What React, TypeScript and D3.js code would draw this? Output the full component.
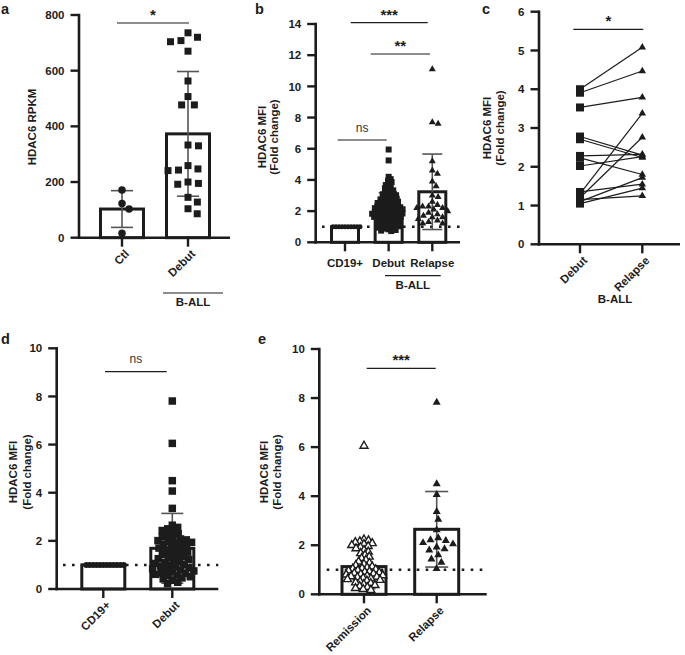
import React from 'react';
import * as d3 from 'd3';

/* ---------- a: HDAC6 RPKM, control vs B-ALL debut ---------- */
const aCategories = ['Ctl', 'Debut'];
const aCtl = [171, 123, 103, 16];
const aDebut = [736, 720, 708, 704, 670, 563, 507, 477, 477, 333, 330, 259, 247, 243, 241, 200, 195, 192, 145, 128, 104, 86];
const aMean = [103, 373];
const aSd = [66, 224];
const aTicks = [0, 200, 400, 600, 800];

/* ---------- b: HDAC6 MFI fold change ---------- */
const bCategories = ['CD19+', 'Debut', 'Relapse'];
const bCd19 = [1, 1, 1, 1, 1, 1, 1, 1, 1, 1];
const bDebut = [
  0.72, 0.75, 0.79, 0.83, 0.88,
  0.91, 0.94, 0.97, 1.0, 1.03, 1.06, 1.09,
  1.11, 1.13, 1.16, 1.19, 1.22, 1.24, 1.27, 1.29,
  1.31, 1.34, 1.36, 1.39, 1.42, 1.44, 1.47, 1.49,
  1.51, 1.53, 1.56, 1.58, 1.61, 1.63, 1.65, 1.67, 1.69,
  1.71, 1.72, 1.74, 1.76, 1.79, 1.81, 1.83, 1.85, 1.87, 1.89,
  1.91, 1.92, 1.94, 1.96, 1.98, 2.01, 2.03, 2.05, 2.07, 2.09,
  2.11, 2.12, 2.14, 2.16, 2.19, 2.21, 2.23, 2.25, 2.27, 2.29,
  2.31, 2.34, 2.36, 2.39, 2.42, 2.44, 2.46, 2.49,
  2.52, 2.55, 2.58, 2.61, 2.63, 2.66, 2.69,
  2.72, 2.75, 2.79, 2.82, 2.85, 2.88,
  2.92, 2.96, 3.0, 3.04, 3.08,
  3.12, 3.17, 3.22, 3.27,
  3.33, 3.4, 3.46,
  3.52, 3.6, 3.67,
  3.75, 3.86,
  3.95, 4.05,
  4.2,
  5.25, 5.95,
];
const bRelapse = [11.1, 7.7, 7.6, 5.2, 4.6, 4.4, 3.9, 3.6, 3.0, 2.9, 2.6, 2.4, 2.3, 2.3, 2.2, 2.2, 2.1, 2.0, 1.9, 1.8, 1.7, 1.6, 1.6, 1.5, 1.4, 1.3, 1.2, 1.2];
const bMean = [1, 2.18, 3.24];
const bSd = [0, 1.0, 2.42];
const bTicks = [0, 2, 4, 6, 8, 10, 12, 14];

/* ---------- c: paired debut / relapse ---------- */
const cCategories = ['Debut', 'Relapse'];
const cDebut = [4.0, 3.91, 3.53, 2.78, 2.71, 2.28, 2.23, 2.02, 1.3, 1.2, 1.1, 1.35, 1.05, 1.15];
const cRelapse = [5.08, 4.47, 3.79, 2.3, 2.24, 2.32, 1.8, 2.26, 3.38, 2.76, 1.72, 1.55, 1.45, 1.25];
const cTicks = [0, 1, 2, 3, 4, 5, 6];

/* ---------- d: CD19+ vs debut ---------- */
const dCategories = ['CD19+', 'Debut'];
const dCd19 = [1, 1, 1, 1, 1, 1, 1, 1, 1, 1, 1, 1];
const dDebut = [
  0.22, 0.28, 0.36,
  0.42, 0.46, 0.51, 0.55, 0.58,
  0.61, 0.65, 0.68, 0.72, 0.75, 0.79,
  0.81, 0.84, 0.88, 0.91, 0.95, 0.98,
  1.02, 1.06, 1.1, 1.14, 1.18,
  1.22, 1.26, 1.3, 1.34, 1.38,
  1.43, 1.48, 1.53, 1.57,
  1.61, 1.65, 1.7, 1.74, 1.78,
  1.82, 1.86, 1.9, 1.94, 1.98,
  2.01, 2.04, 2.08, 2.12, 2.17,
  2.23, 2.3, 2.37,
  2.43, 2.5, 2.56,
  2.65,
  3.35, 4.07, 4.5, 6.05, 7.81,
];
const dMean = [1, 1.69];
const dSd = [0, 1.45];
const dTicks = [0, 2, 4, 6, 8, 10];

/* ---------- e: remission vs relapse ---------- */
const eCategories = ['Remission', 'Relapse'];
const eRemission = [
  0.17, 0.21, 0.25, 0.29,
  0.33, 0.37, 0.41, 0.45, 0.48,
  0.52, 0.55, 0.58, 0.61, 0.64, 0.66, 0.69,
  0.71, 0.73, 0.75, 0.77, 0.8, 0.82, 0.84, 0.86, 0.89,
  0.91, 0.93, 0.96, 0.98, 1.01, 1.04, 1.06, 1.09,
  1.13, 1.18, 1.23, 1.28,
  1.33, 1.4, 1.47,
  1.53, 1.6, 1.67,
  1.73, 1.8, 1.87,
  1.92, 1.96, 2.0, 2.04, 2.08,
  2.12, 2.15, 2.19, 2.23,
  6.05,
];
const eRelapse = [7.82, 4.5, 4.06, 3.37, 3.05, 2.62, 2.3, 2.22, 2.19, 2.1, 2.05, 1.92, 1.85, 1.8, 1.6, 1.43, 1.3, 1.04];
const eMean = [1.13, 2.65];
const eSd = [0.9, 1.54];
const eTicks = [0, 2, 4, 6, 8, 10];

/* ---------- drawing helpers ---------- */
const INK = '#1c1c1c';
const ERR = '#555555';
const FONT = "'Liberation Sans', Arial, Helvetica, sans-serif";
const FS = 11.5;

type Scale = d3.ScaleLinear<number, number>;
type Shape = 'square' | 'circle' | 'triangle';

function swarm(values: number[], y: Scale, gap: number) {
  const placed: { v: number; y: number; dx: number }[] = [];
  const sorted = [...values].sort((a, b) => b - a);
  for (const v of sorted) {
    const yy = y(v);
    const blocks: [number, number][] = [];
    for (const p of placed) {
      const dy = Math.abs(p.y - yy);
      if (dy < gap) {
        const w = Math.sqrt(gap * gap - dy * dy);
        blocks.push([p.dx - w, p.dx + w]);
      }
    }
    const cands = [0];
    blocks.forEach(([a, b]) => cands.push(a, b));
    cands.sort((a, b) => Math.abs(a) - Math.abs(b) || b - a);
    const dx = cands.find((c) => blocks.every(([a, b]) => c <= a + 1e-6 || c >= b - 1e-6)) ?? 0;
    placed.push({ v, y: yy, dx });
  }
  return placed;
}

function symbolPath(shape: Shape, size: number) {
  if (shape === 'square') return d3.symbol(d3.symbolSquare, size * size)() as string;
  if (shape === 'circle') return d3.symbol(d3.symbolCircle, (Math.PI * size * size) / 4)() as string;
  return d3.symbol(d3.symbolTriangle, (Math.sqrt(3) / 4) * size * size)() as string;
}

function Points({ values, cx, y, gap, shape, size, open = false }: {
  values: number[]; cx: number; y: Scale; gap: number; shape: Shape; size: number; open?: boolean;
}) {
  const pts = swarm(values, y, gap);
  const d = symbolPath(shape, size);
  return (
    <g>
      {pts.map((p, i) => (
        <path key={i} d={d} transform={`translate(${cx + p.dx},${p.y})`}
          fill={open ? '#fff' : INK} stroke={open ? INK : 'none'} strokeWidth={open ? 1.4 : 0} />
      ))}
    </g>
  );
}

function Bar({ cx, w, y, v }: { cx: number; w: number; y: Scale; v: number }) {
  return <rect x={cx - w / 2} y={y(v)} width={w} height={y(0) - y(v)} fill="none" stroke={INK} strokeWidth={3} />;
}

function ErrorBar({ cx, y, mean, sd, cap }: { cx: number; y: Scale; mean: number; sd: number; cap: number }) {
  if (!sd) return null;
  const lo = y(mean - sd), hi = y(mean + sd);
  return (
    <g stroke={ERR} strokeWidth={1.6}>
      <line x1={cx} x2={cx} y1={lo} y2={hi} />
      <line x1={cx - cap / 2} x2={cx + cap / 2} y1={hi} y2={hi} />
      <line x1={cx - cap / 2} x2={cx + cap / 2} y1={lo} y2={lo} />
    </g>
  );
}

function RefLine({ x1, x2, y }: { x1: number; x2: number; y: number }) {
  return <line x1={x1} x2={x2} y1={y} y2={y} stroke={INK} strokeWidth={2.6} strokeDasharray="2.6 6.4" />;
}

function Axes({ y, ticks, axisX, axisEnd, x, cats, rotate }: {
  y: Scale; ticks: number[]; axisX: number; axisEnd: number; x: d3.ScalePoint<string>; cats: string[]; rotate: boolean;
}) {
  const y0 = y(0);
  const yTop = y(ticks[ticks.length - 1]);
  return (
    <g>
      <line x1={axisX} x2={axisX} y1={y0 + 1.3} y2={yTop - 1.2} stroke={INK} strokeWidth={2.6} />
      <line x1={axisX - 1.3} x2={axisEnd} y1={y0} y2={y0} stroke={INK} strokeWidth={2.6} />
      {ticks.map((t) => (
        <g key={t}>
          <line x1={axisX - 8.5} x2={axisX} y1={y(t)} y2={y(t)} stroke={INK} strokeWidth={2.4} />
          <text x={axisX - 14.5} y={y(t)} dy="0.36em" textAnchor="end" fontSize={FS} fontWeight="bold" fill={INK}>{t}</text>
        </g>
      ))}
      {cats.map((c) => (
        <line key={c} x1={x(c)} x2={x(c)} y1={y0} y2={y0 + 9} stroke={INK} strokeWidth={2.4} />
      ))}
      {cats.map((c) =>
        rotate ? (
          <text key={c} transform={`translate(${x(c)! + 5},${y0 + 14}) rotate(-45)`} dy="0.35em" textAnchor="end"
            fontSize={FS} fontWeight="bold" fill={INK}>{c}</text>
        ) : (
          <text key={c} x={x(c)} y={y0 + 25} textAnchor="middle" fontSize={FS} fontWeight="bold" fill={INK}>{c}</text>
        )
      )}
    </g>
  );
}

function Sig({ x1, x2, y, label }: { x1: number; x2: number; y: number; label: string }) {
  const stars = label.startsWith('*');
  return (
    <g>
      <line x1={x1} x2={x2} y1={y} y2={y} stroke={INK} strokeWidth={1.2} />
      <text x={(x1 + x2) / 2} y={stars ? y - 3 : y - 8.5} textAnchor="middle"
        fontSize={stars ? 15 : 12} fontWeight={stars ? 'bold' : 'normal'} fill={stars ? INK : '#333'}>{label}</text>
    </g>
  );
}

function YLabel({ xs, cy, lines }: { xs: number[]; cy: number; lines: string[] }) {
  return (
    <g>
      {lines.map((l, i) => (
        <text key={l} transform={`translate(${xs[i]},${cy}) rotate(-90)`} dy="0.35em" textAnchor="middle"
          fontSize={FS} fontWeight="bold" fill={INK}>{l}</text>
      ))}
    </g>
  );
}

function Group({ x1, x2, y, label, line = true }: { x1: number; x2: number; y: number; label: string; line?: boolean }) {
  return (
    <g>
      {line && <line x1={x1} x2={x2} y1={y} y2={y} stroke={INK} strokeWidth={1.2} />}
      <text x={(x1 + x2) / 2} y={y + 13} textAnchor="middle" fontSize={FS} fontWeight="bold" fill={INK}>{label}</text>
    </g>
  );
}

function Letter({ x, y, t }: { x: number; y: number; t: string }) {
  return <text x={x} y={y} fontSize={14.5} fontWeight="bold" fill={INK}>{t}</text>;
}

/* ---------- panels ---------- */
function PanelA() {
  const y = d3.scaleLinear().domain([0, 800]).range([237.7, 15]);
  const x = d3.scalePoint<string>().domain(aCategories).range([122, 188]);
  return (
    <g>
      <Letter x={1} y={14} t="a" />
      {aCategories.map((c, i) => <Bar key={c} cx={x(c)!} w={43} y={y} v={aMean[i]} />)}
      {aCategories.map((c, i) => <ErrorBar key={c} cx={x(c)!} y={y} mean={aMean[i]} sd={aSd[i]} cap={22} />)}
      <Points values={aCtl} cx={x('Ctl')!} y={y} gap={9} shape="circle" size={7.5} />
      <Points values={aDebut} cx={x('Debut')!} y={y} gap={10.5} shape="square" size={7} />
      <Axes y={y} ticks={aTicks} axisX={79} axisEnd={230} x={x} cats={aCategories} rotate />
      <Sig x1={117} x2={189} y={23} label="*" />
      <YLabel xs={[32]} cy={127} lines={['HDAC6 RPKM']} />
      <Group x1={163} x2={223} y={293} label="B-ALL" />
    </g>
  );
}

function PanelB() {
  const y = d3.scaleLinear().domain([0, 14]).range([242.3, 24]);
  const x = d3.scalePoint<string>().domain(bCategories).range([345, 432.3]);
  const groups = [bCd19, bDebut, bRelapse];
  const shapes: Shape[] = ['circle', 'square', 'triangle'];
  const sizes = [5, 6, 7];
  const gaps = [3, 3.1, 6];
  return (
    <g>
      <Letter x={255} y={14} t="b" />
      {bCategories.map((c, i) => <Bar key={c} cx={x(c)!} w={27} y={y} v={bMean[i]} />)}
      <RefLine x1={322} x2={460} y={y(1)} />
      {bCategories.map((c, i) => <ErrorBar key={c} cx={x(c)!} y={y} mean={bMean[i]} sd={bSd[i]} cap={20} />)}
      {bCategories.map((c, i) => (
        <Points key={c} values={groups[i]} cx={x(c)!} y={y} gap={gaps[i]} shape={shapes[i]} size={sizes[i]} />
      ))}
      <Axes y={y} ticks={bTicks} axisX={315.7} axisEnd={460} x={x} cats={bCategories} rotate={false} />
      <Sig x1={350.7} x2={427.7} y={22.7} label="***" />
      <Sig x1={370.7} x2={430} y={54} label="**" />
      <Sig x1={337.7} x2={386.7} y={140} label="ns" />
      <YLabel xs={[261.7, 273.7]} cy={137} lines={['HDAC6 MFI', '(Fold change)']} />
      <Group x1={385} x2={440.7} y={275.7} label="B-ALL" />
    </g>
  );
}

function PanelC() {
  const y = d3.scaleLinear().domain([0, 6]).range([244.3, 11.7]);
  const x = d3.scalePoint<string>().domain(cCategories).range([580, 642.3]);
  const sq = symbolPath('square', 8);
  const tri = symbolPath('triangle', 7.5);
  const x0 = x('Debut')!, x1 = x('Relapse')!;
  return (
    <g>
      <Letter x={482} y={14} t="c" />
      {cDebut.map((v, i) => (
        <line key={i} x1={x0} x2={x1} y1={y(v)} y2={y(cRelapse[i])} stroke={INK} strokeWidth={1.2} />
      ))}
      {cDebut.map((v, i) => <path key={i} d={sq} transform={`translate(${x0},${y(v)})`} fill={INK} />)}
      {cRelapse.map((v, i) => <path key={i} d={tri} transform={`translate(${x1},${y(v)})`} fill={INK} />)}
      <Axes y={y} ticks={cTicks} axisX={539} axisEnd={680} x={x} cats={cCategories} rotate />
      <Sig x1={573.3} x2={643.3} y={29.3} label="*" />
      <YLabel xs={[486.7, 499.7]} cy={128} lines={['HDAC6 MFI', '(Fold change)']} />
      <Group x1={590} x2={640} y={289.5} label="B-ALL" line={false} />
    </g>
  );
}

function PanelD() {
  const y = d3.scaleLinear().domain([0, 10]).range([589, 348.3]);
  const x = d3.scalePoint<string>().domain(dCategories).range([103.3, 172.3]);
  return (
    <g>
      <Letter x={1} y={344} t="d" />
      {dCategories.map((c, i) => <Bar key={c} cx={x(c)!} w={43} y={y} v={dMean[i]} />)}
      <RefLine x1={63} x2={218.3} y={y(1)} />
      {dCategories.map((c, i) => <ErrorBar key={c} cx={x(c)!} y={y} mean={dMean[i]} sd={dSd[i]} cap={22} />)}
      <Points values={dCd19} cx={x('CD19+')!} y={y} gap={3.4} shape="circle" size={6} />
      <Points values={dDebut} cx={x('Debut')!} y={y} gap={5.8} shape="square" size={7.5} />
      <Axes y={y} ticks={dTicks} axisX={56.7} axisEnd={218.3} x={x} cats={dCategories} rotate />
      <Sig x1={105} x2={166.7} y={371.7} label="ns" />
      <YLabel xs={[13, 27]} cy={472} lines={['HDAC6 MFI', '(Fold change)']} />
    </g>
  );
}

function PanelE() {
  const y = d3.scaleLinear().domain([0, 10]).range([594.3, 349]);
  const x = d3.scalePoint<string>().domain(eCategories).range([364, 436.7]);
  return (
    <g>
      <Letter x={258} y={344} t="e" />
      {eCategories.map((c, i) => <Bar key={c} cx={x(c)!} w={44} y={y} v={eMean[i]} />)}
      <RefLine x1={326.7} x2={486.7} y={y(1)} />
      {eCategories.map((c, i) => <ErrorBar key={c} cx={x(c)!} y={y} mean={eMean[i]} sd={eSd[i]} cap={23} />)}
      <Points values={eRemission} cx={x('Remission')!} y={y} gap={4.6} shape="triangle" size={8} open />
      <Points values={eRelapse} cx={x('Relapse')!} y={y} gap={8} shape="triangle" size={8} />
      <Axes y={y} ticks={eTicks} axisX={319.3} axisEnd={486.7} x={x} cats={eCategories} rotate />
      <Sig x1={366.7} x2={435.7} y={368.3} label="***" />
      <YLabel xs={[264, 277]} cy={472} lines={['HDAC6 MFI', '(Fold change)']} />
    </g>
  );
}

export default function App() {
  return (
    <svg width={685} height={655} viewBox="0 0 685 655" fontFamily={FONT}
      style={{ position: 'absolute', left: 0, top: 0, background: '#fff' }}>
      <rect width={685} height={655} fill="#fff" />
      <PanelA />
      <PanelB />
      <PanelC />
      <PanelD />
      <PanelE />
    </svg>
  );
}
